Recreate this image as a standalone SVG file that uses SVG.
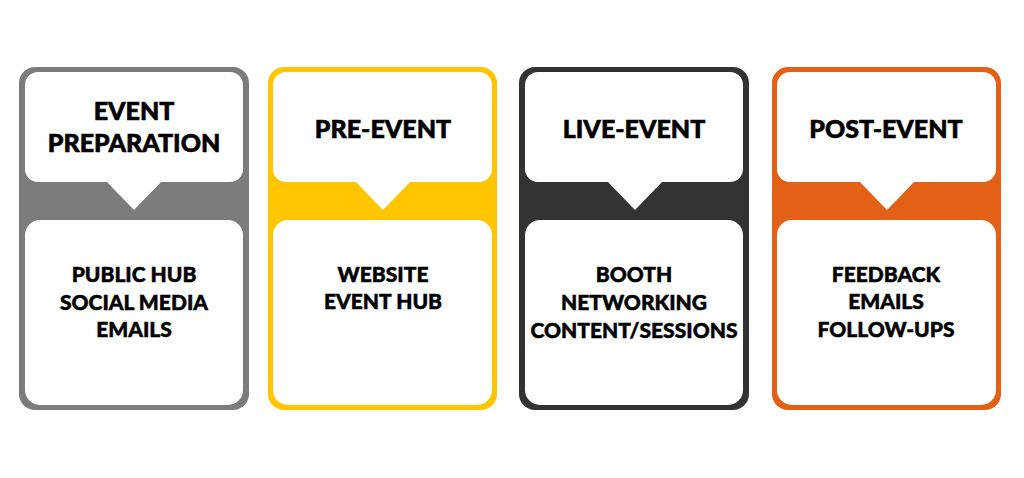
<svg xmlns="http://www.w3.org/2000/svg" width="1024" height="478" viewBox="0 0 1024 478">
<style>
.w{fill:#ffffff}
.t{font-family:Lato,"Open Sans","Liberation Sans",sans-serif;font-weight:900;font-size:25px;fill:#000;stroke:#000;stroke-width:0.6px;text-anchor:middle}
.b{font-family:Lato,"Open Sans","Liberation Sans",sans-serif;font-weight:900;font-size:21px;fill:#000;stroke:#000;stroke-width:0.5px;text-anchor:middle}
</style>
<rect width="1024" height="478" fill="#ffffff"/>
<g id="event-preparation">
<rect x="19" y="67" width="230" height="343" rx="16" fill="#7a7c7e"/>
<rect class="w" x="25" y="72" width="218" height="110" rx="13"/>
<polygon class="w" points="106,181 162,181 134,210"/>
<rect class="w" x="25" y="220" width="218" height="185" rx="15"/>
<text class="t" x="134" y="120">EVENT</text>
<text class="t" x="134" y="152">PREPARATION</text>
<text class="b" x="134" y="282">PUBLIC HUB</text>
<text class="b" x="134" y="310">SOCIAL MEDIA</text>
<text class="b" x="134" y="337">EMAILS</text>
</g>
<g id="pre-event">
<rect x="268" y="67" width="229" height="343" rx="16" fill="#ffc600"/>
<rect class="w" x="273" y="72" width="219" height="110" rx="13"/>
<polygon class="w" points="355,181 411,181 383,210"/>
<rect class="w" x="273" y="220" width="219" height="185" rx="15"/>
<text class="t" x="383" y="138">PRE-EVENT</text>
<text class="b" x="383" y="282">WEBSITE</text>
<text class="b" x="383" y="309">EVENT HUB</text>
</g>
<g id="live-event">
<rect x="519" y="67" width="230" height="343" rx="16" fill="#333333"/>
<rect class="w" x="525" y="72" width="218" height="110" rx="13"/>
<polygon class="w" points="607,181 663,181 635,210"/>
<rect class="w" x="525" y="220" width="218" height="185" rx="15"/>
<text class="t" x="634" y="138">LIVE-EVENT</text>
<text class="b" x="634" y="282">BOOTH</text>
<text class="b" x="634" y="310">NETWORKING</text>
<text class="b" x="634" y="338">CONTENT/SESSIONS</text>
</g>
<g id="post-event">
<rect x="772" y="67" width="229" height="343" rx="16" fill="#e46016"/>
<rect class="w" x="777" y="72" width="219" height="110" rx="13"/>
<polygon class="w" points="859,181 915,181 887,210"/>
<rect class="w" x="777" y="220" width="219" height="185" rx="15"/>
<text class="t" x="886" y="138">POST-EVENT</text>
<text class="b" x="886" y="282">FEEDBACK</text>
<text class="b" x="886" y="309">EMAILS</text>
<text class="b" x="886" y="337">FOLLOW-UPS</text>
</g>
<g id="connectors"></g>
</svg>
